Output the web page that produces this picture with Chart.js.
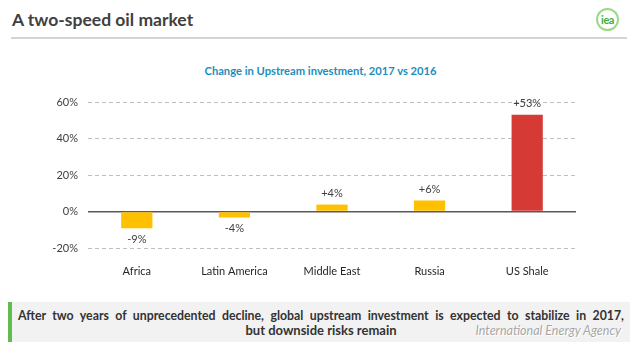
<!DOCTYPE html>
<html>
<head>
<meta charset="utf-8">
<script src="https://cdn.jsdelivr.net/npm/chart.js@4/dist/chart.umd.min.js"></script>
<style>
    html, body { margin: 0; padding: 0; background: #ffffff; }
    body { width: 641px; height: 364px; position: relative; overflow: hidden; font-family: Lato, "Open Sans", sans-serif; }
    #pageTitle { position: absolute; left: 12px; top: 9px; font-size: 17.5px; font-weight: bold; color: #404040; }
    #titleRule { position: absolute; left: 11px; top: 37px; width: 616px; height: 2px; background: #d4d4d4; }
    #logo { position: absolute; left: 596px; top: 8px; width: 19px; height: 19px; border: 2px solid #9ad88a; border-radius: 50%;
            font-size: 11px; font-weight: bold; color: #3fae3a; text-align: center; line-height: 20px; letter-spacing: -0.5px; }
    #chartTitle { position: absolute; left: 0; top: 64px; width: 641px; text-align: center; font-size: 11.2px; font-weight: bold; color: #1b8ebd; }
    #chartBox { position: absolute; left: 0; top: 0; width: 641px; height: 364px; }
    #note { position: absolute; left: 8px; top: 302px; width: 606px; height: 26px; padding: 7px 6px 7px 6px;
            background: #f2f2f2; border-left: 4px solid #62bb4e; font-size: 12.3px; font-weight: bold; color: #333333;
            line-height: 14px; }
    #note .l1 { display: block; text-align: justify; text-align-last: justify; }
    #note .l2 { display: block; text-align: center; font-size: 13px; }
    #source { position: absolute; right: 20px; top: 323px; font-size: 12.5px; font-style: italic; color: #a6a6a6;
              text-shadow: 0 0 1px #ffffff, 1px 1px 0 #ffffff; }
</style>
</head>
<body>
<div id="pageTitle">A two-speed oil market</div>
<div id="titleRule"></div>
<div id="logo">iea</div>
<div id="chartTitle">Change in Upstream investment, 2017 vs 2016</div>
<div id="chartBox"><canvas id="investChart"></canvas></div>
<div id="note"><span class="l1">After two years of unprecedented decline, global upstream investment is expected to stabilize in 2017,</span><span class="l2">but downside risks remain</span></div>
<div id="source">International Energy Agency</div>
<script>
    // Datos
    const regions = ['Africa', 'Latin America', 'Middle East', 'Russia', 'US Shale'];
    const changePct = [-9.2, -3.3, 3.8, 6, 53];
    const valueLabels = ['-9%', '-4%', '+4%', '+6%', '+53%'];
    const yTicks = [-20, 0, 20, 40, 60];

    const barColors = ['#ffc000', '#ffc000', '#ffc000', '#ffc000', '#d63a35'];

    // Etiquetas de valor encima/debajo de cada barra
    const valueLabelPlugin = {
        id: 'valueLabels',
        afterDatasetsDraw(chart) {
            const ctx = chart.ctx;
            const meta = chart.getDatasetMeta(0);
            ctx.save();
            ctx.font = '11px Lato, sans-serif';
            ctx.fillStyle = '#404040';
            ctx.textAlign = 'center';
            ctx.textBaseline = 'middle';
            meta.data.forEach((bar, i) => {
                const up = changePct[i] >= 0;
                const y = up ? bar.y - 11 : bar.y + 11;
                ctx.fillText(valueLabels[i], bar.x, y);
            });
            ctx.restore();
        }
    };

    new Chart(document.getElementById('investChart'), {
        type: 'bar',
        data: {
            labels: regions,
            datasets: [{
                data: changePct,
                backgroundColor: barColors,
                borderWidth: 0,
                barPercentage: 0.32,
                categoryPercentage: 1
            }]
        },
        options: {
            responsive: true,
            maintainAspectRatio: false,
            animation: false,
            layout: { padding: { left: 0, right: 65, top: 102, bottom: 76 } },
            plugins: {
                legend: { display: false },
                tooltip: { enabled: false }
            },
            scales: {
                x: {
                    grid: { display: false, drawTicks: false },
                    border: { display: false },
                    ticks: { padding: 17, color: '#262626', font: { family: 'Lato', size: 11 } },
                    afterFit: (scale) => { scale.height = 40; }
                },
                y: {
                    min: -20,
                    max: 60,
                    afterBuildTicks: (scale) => { scale.ticks = yTicks.map(v => ({ value: v })); },
                    grid: {
                        drawTicks: false,
                        color: (c) => c.tick && c.tick.value === 0 ? '#595959' : '#bfbfbf',
                        lineWidth: (c) => c.tick && c.tick.value === 0 ? 1.5 : 1
                    },
                    border: {
                        display: false,
                        dash: (c) => c.tick && c.tick.value === 0 ? [] : [4, 3]
                    },
                    ticks: {
                        padding: 10,
                        color: '#404040',
                        font: { family: 'Lato', size: 11 },
                        callback: (v) => v + '%'
                    },
                    afterFit: (scale) => { scale.width = 88; }
                }
            }
        },
        plugins: [valueLabelPlugin]
    });
</script>
</body>
</html>
